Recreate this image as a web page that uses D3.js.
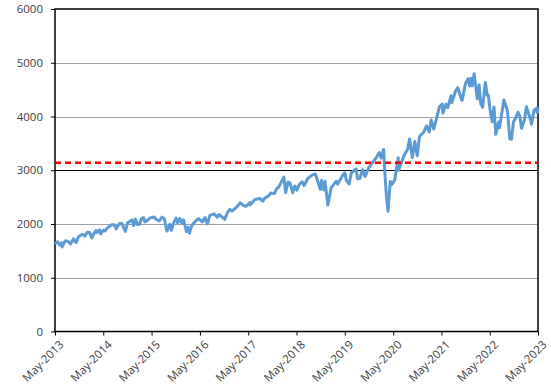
<!DOCTYPE html>
<html>
<head>
<meta charset="utf-8">
<script src="https://cdn.jsdelivr.net/npm/d3@7"></script>
<style>
body { margin: 0; background: #fff; }
text { font-family: "Open Sans", "DejaVu Sans", sans-serif; font-size: 11px; fill: #404040; }
</style>
</head>
<body>
<div id="chart"></div>
<script>
// index level
var dates = ["2013-05-01","2013-05-21","2013-06-05","2013-06-18","2013-06-24","2013-07-15","2013-07-31","2013-08-15","2013-08-27","2013-09-18","2013-10-08","2013-10-25","2013-11-15","2013-11-27","2013-12-13","2013-12-31",
"2014-01-15","2014-02-03","2014-02-20","2014-03-07","2014-03-14","2014-04-02","2014-04-11","2014-04-30","2014-05-15","2014-05-30","2014-06-20","2014-07-03","2014-07-24","2014-08-07","2014-08-29","2014-09-18","2014-10-15","2014-10-31","2014-11-28","2014-12-05","2014-12-16","2014-12-29",
"2015-01-15","2015-01-30","2015-02-13","2015-03-02","2015-03-11","2015-03-31","2015-04-24","2015-05-21","2015-06-08","2015-06-29","2015-07-20","2015-08-05","2015-08-25","2015-09-16","2015-09-28","2015-10-15","2015-11-03","2015-11-13","2015-12-01","2015-12-14","2015-12-29",
"2016-01-20","2016-02-01","2016-02-11","2016-03-01","2016-03-31","2016-04-20","2016-05-19","2016-06-08","2016-06-27","2016-07-15","2016-08-15","2016-09-09","2016-09-22","2016-10-14","2016-11-04","2016-11-25","2016-12-13","2016-12-30",
"2017-01-26","2017-02-15","2017-03-01","2017-03-27","2017-04-13","2017-05-16","2017-05-17","2017-06-19","2017-07-27","2017-08-18","2017-09-01","2017-09-29","2017-10-20","2017-11-15","2017-11-30","2017-12-18",
"2018-01-26","2018-02-08","2018-02-26","2018-03-13","2018-04-02","2018-04-18","2018-05-03","2018-05-21","2018-06-12","2018-06-28","2018-07-25","2018-08-29","2018-09-20","2018-10-10","2018-10-29","2018-11-07","2018-11-23","2018-12-03","2018-12-24",
"2019-01-18","2019-02-25","2019-03-08","2019-04-23","2019-05-03","2019-05-13","2019-06-03","2019-06-20","2019-07-26","2019-08-05","2019-08-23","2019-09-12","2019-10-02","2019-10-28","2019-11-26","2019-12-27",
"2020-01-17","2020-01-31","2020-02-19","2020-02-28","2020-03-12","2020-03-23","2020-04-09","2020-04-21","2020-05-13","2020-06-08","2020-06-11","2020-07-22","2020-08-18","2020-09-02","2020-09-23","2020-10-12","2020-10-30","2020-11-16","2020-12-18",
"2021-01-08","2021-01-29","2021-02-12","2021-03-04","2021-03-26","2021-04-16","2021-05-07","2021-05-12","2021-06-04","2021-06-18","2021-07-12","2021-07-19","2021-08-16","2021-09-02","2021-09-30","2021-10-04","2021-10-29","2021-11-18","2021-11-30","2021-12-10","2021-12-20",
"2022-01-03","2022-01-27","2022-02-09","2022-02-23","2022-03-08","2022-03-29","2022-04-12","2022-04-21","2022-05-02","2022-05-20","2022-06-02","2022-06-16","2022-07-08","2022-07-14","2022-08-16","2022-09-12","2022-09-30","2022-10-12","2022-10-28","2022-11-10","2022-11-30","2022-12-13","2022-12-28",
"2023-01-18","2023-02-02","2023-03-09","2023-03-13","2023-03-31","2023-04-18","2023-04-25","2023-05-01"];

var values = [1630,1669,1608,1651,1573,1682,1686,1661,1630,1725,1655,1759,1798,1807,1775,1848,
1848,1742,1828,1878,1841,1890,1815,1884,1870,1924,1963,1985,1988,1910,2003,2011,1862,2018,2068,2075,1972,2091,
1992,1995,2097,2117,2040,2068,2117,2131,2080,2058,2128,2100,1868,1996,1882,2024,2110,2023,2103,2013,2078,
1859,1940,1829,1978,2060,2102,2040,2119,2001,2162,2190,2128,2177,2133,2085,2213,2271,2239,
2299,2349,2396,2342,2329,2400,2357,2453,2475,2425,2477,2519,2575,2565,2648,2690,
2873,2581,2780,2765,2582,2708,2630,2733,2786,2716,2846,2914,2931,2786,2641,2813,2633,2790,2351,
2671,2796,2743,2934,2946,2812,2744,2954,3026,2844,2847,3009,2887,3039,3140,3240,
3330,3225,3386,2954,2481,2237,2790,2737,2820,3232,3002,3276,3389,3580,3237,3535,3270,3627,3710,
3824,3714,3934,3768,3975,4185,4232,4063,4230,4166,4385,4259,4479,4537,4308,4300,4605,4704,4567,4712,4569,
4797,4327,4587,4226,4171,4632,4397,4394,4155,3901,4176,3667,3899,3790,4305,4110,3586,3577,3901,3956,4080,4019,3783,
3928,4180,3918,3855,4109,4154,4071,4168];

var yTicks = [0, 1000, 2000, 3000, 4000, 5000, 6000];
var xTickYears = [2013, 2014, 2015, 2016, 2017, 2018, 2019, 2020, 2021, 2022, 2023];
var refLevel = 3140;

var width = 551,
    height = 390;
var margin = {top: 9, right: 13, bottom: 58.5, left: 55};

var parse = d3.timeParse("%Y-%m-%d");
var data = dates.map(function(d, i) { return {date: parse(d), value: values[i]}; });

var svg = d3.select("#chart").append("svg")
  .attr("width", width)
  .attr("height", height);

var x = d3.scaleTime()
  .domain([new Date(2013, 4, 1), new Date(2023, 4, 1)])
  .range([margin.left, width - margin.right]);

var y = d3.scaleLinear()
  .domain([0, 6000])
  .range([height - margin.bottom, margin.top]);

// gridlines
svg.append("g")
  .selectAll("line")
  .data(yTicks.filter(function(d) { return d > 0 && d < 6000; }))
  .enter().append("line")
  .attr("x1", margin.left)
  .attr("x2", width - margin.right)
  .attr("y1", function(d) { return Math.round(y(d)) + 0.5; })
  .attr("y2", function(d) { return Math.round(y(d)) + 0.5; })
  .attr("stroke", function(d) { return d === 3000 ? "#000" : "#a0a0a0"; })
  .attr("stroke-width", 1);

// frame
svg.append("rect")
  .attr("x", margin.left)
  .attr("y", margin.top)
  .attr("width", width - margin.right - margin.left)
  .attr("height", height - margin.bottom - margin.top)
  .attr("fill", "none")
  .attr("stroke", "#000")
  .attr("stroke-width", 1.5);

// y axis
var yAxis = svg.append("g")
  .attr("transform", "translate(" + margin.left + ",0)")
  .call(d3.axisLeft(y).tickValues(yTicks).tickFormat(d3.format("d")).tickSize(4).tickPadding(8));
yAxis.select(".domain").remove();
yAxis.selectAll("line").attr("stroke", "#000");
yAxis.selectAll("text").style("font-size", "11.5px");

// x axis
var fmt = d3.timeFormat("%b-%Y");
var xAxis = svg.append("g")
  .attr("transform", "translate(0," + (height - margin.bottom) + ")")
  .call(d3.axisBottom(x)
    .tickValues(xTickYears.map(function(yr) { return new Date(yr, 4, 1); }))
    .tickFormat(fmt)
    .tickSize(4));
xAxis.select(".domain").remove();
xAxis.selectAll("line").attr("stroke", "#000");
xAxis.selectAll("text")
  .style("font-size", "11.5px")
  .attr("text-anchor", "end")
  .attr("dx", "0")
  .attr("dy", "0")
  .attr("transform", "translate(4,9) rotate(-45)");

// index line
var line = d3.line()
  .x(function(d) { return x(d.date); })
  .y(function(d) { return y(d.value); });

svg.append("path")
  .datum(data)
  .attr("d", line)
  .attr("fill", "none")
  .attr("stroke", "#5b9bd5")
  .attr("stroke-width", 3)
  .attr("stroke-linejoin", "round");

// reference level
svg.append("line")
  .attr("x1", margin.left)
  .attr("x2", width - margin.right)
  .attr("y1", y(refLevel))
  .attr("y2", y(refLevel))
  .attr("stroke", "#ff0000")
  .attr("stroke-width", 2.5)
  .attr("stroke-dasharray", "6,4");
</script>
</body>
</html>
